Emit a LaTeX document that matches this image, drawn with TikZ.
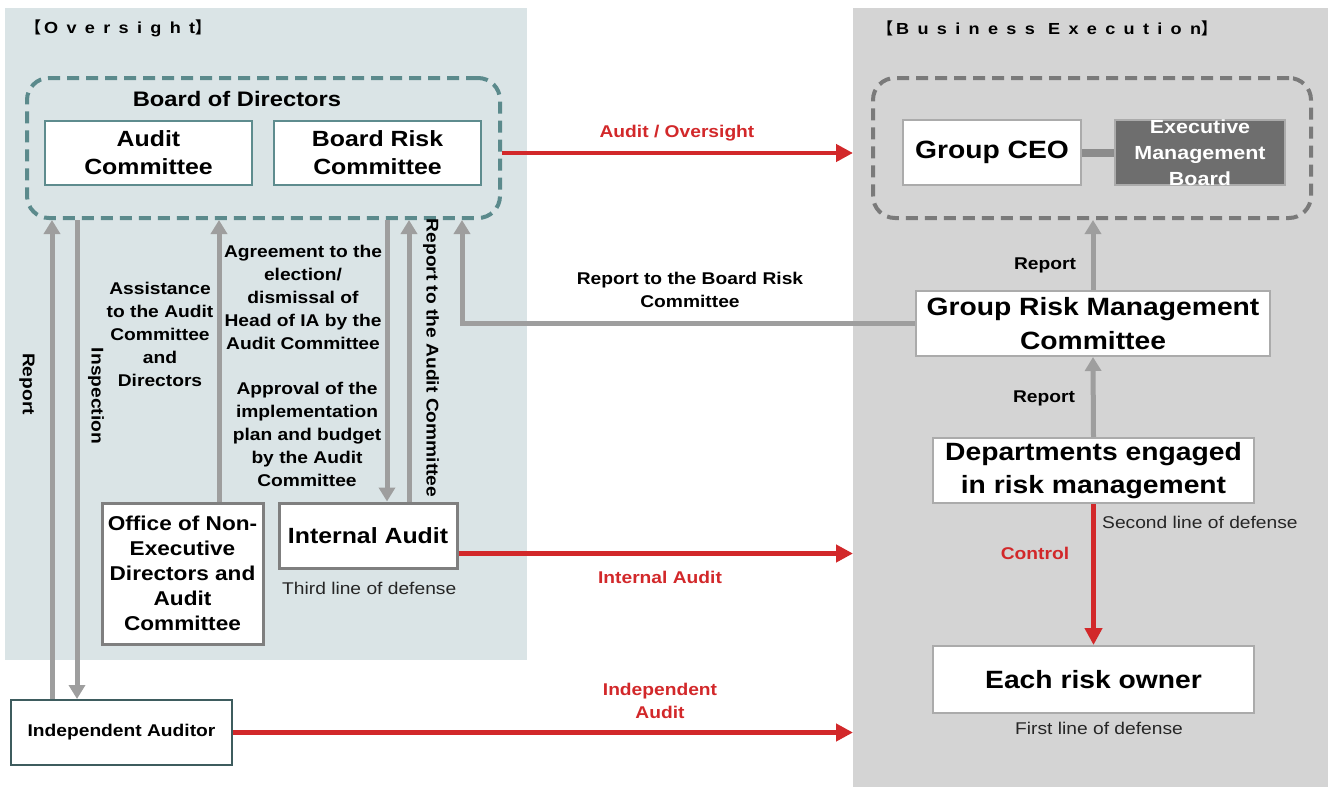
\documentclass[tikz,border=0pt]{standalone}
\usepackage{fontspec}
\setmainfont{Liberation Sans}[FakeStretch=1.13]
\newfontfamily\cjk{Noto Sans CJK JP}
\newfontfamily\spaced{Liberation Sans}[FakeStretch=1.13,LetterSpace=52]
\usetikzlibrary{arrows.meta,positioning}

\definecolor{oversightbg}{HTML}{DAE4E6}
\definecolor{execbg}{HTML}{D4D4D4}
\definecolor{boardline}{HTML}{5B8A8C}
\definecolor{execdash}{HTML}{7A7A7A}
\definecolor{boxteal}{HTML}{5E8C8E}
\definecolor{boxgray}{HTML}{ABABAB}
\definecolor{boxdark}{HTML}{7F7F7F}
\definecolor{auditorline}{HTML}{3E5C5E}
\definecolor{embfill}{HTML}{6E6E6E}
\definecolor{linkgray}{HTML}{8C8C8C}
\definecolor{arrowgray}{HTML}{9E9E9E}
\definecolor{auditred}{HTML}{D2282A}
\definecolor{notegray}{HTML}{262626}

\tikzset{
  >={Triangle[length=14pt,width=16pt]},
  panel/.style={inner sep=0pt,anchor=north west},
  header/.style={anchor=west,inner sep=0pt,font=\bfseries\fontsize{16}{18}\selectfont},
  dashbox/.style={line width=4pt,dash pattern=on 12pt off 7pt,rounded corners=22pt,inner sep=0pt},
  box/.style={fill=white,line width=2pt,inner sep=0pt,align=center},
  gryarrow/.style={draw=arrowgray,line width=5pt},
  redarrow/.style={draw=auditred,line width=4.5pt,-{Triangle[length=17pt,width=17pt]}},
  lbl/.style={inner sep=0pt,align=center,font=\bfseries\fontsize{17}{23}\selectfont},
  note/.style={inner sep=0pt,text=notegray,font=\fontsize{17}{20}\selectfont}
}

\begin{document}
\begin{tikzpicture}[x=1pt,y=-1pt]
\useasboundingbox (0,0) rectangle (1333,787);
\node [panel,fill=oversightbg,minimum width=522pt,minimum height=652pt] (oversight) at (5,8) {};
\node [panel,fill=execbg,minimum width=475pt,minimum height=779pt] (business) at (853,8) {};
\node [header] (oversighttitle) at (25,28) {{\cjk 【}\hspace{3pt}{\spaced Oversight}{\cjk 】}};
\node [header] (businesstitle) at (877,28) {{\cjk 【}\hspace{3pt}{\spaced Business Execution}{\cjk 】}};

\node [dashbox,draw=boardline,minimum width=473pt,minimum height=140pt] (board) at (263.5,148) {};
\node [font=\bfseries\fontsize{21}{24}\selectfont,inner sep=0pt] (boardtitle) at (237,99) {Board of Directors};
\node [box,draw=boxteal,minimum width=207pt,minimum height=64pt,font=\bfseries\fontsize{22}{28}\selectfont] (auditcom) at (148.5,153) {Audit\\Committee};
\node [box,draw=boxteal,minimum width=207pt,minimum height=64pt,font=\bfseries\fontsize{22}{28}\selectfont] (riskcom) at (377.5,153) {Board Risk\\Committee};

\node [dashbox,draw=execdash,minimum width=438pt,minimum height=140pt] (execgroup) at (1092,148) {};
\node [box,draw=boxgray,minimum width=178pt,minimum height=65pt,font=\bfseries\fontsize{25}{30}\selectfont] (ceo) at (992,152.5) {Group CEO};
\node [box,draw=boxgray,fill=embfill,text=white,minimum width=170pt,minimum height=65pt,font=\bfseries\fontsize{19}{26}\selectfont] (emb) at (1200,152.5) {Executive\\Management\\Board};
\draw [draw=linkgray,line width=8pt] (ceo) -- (emb);

\node [box,draw=boxgray,minimum width=354pt,minimum height=65pt,font=\bfseries\fontsize{25}{34}\selectfont] (grmc) at (1093,323.5) {Group Risk Management\\Committee};
\node [box,draw=boxgray,minimum width=321pt,minimum height=65pt,font=\bfseries\fontsize{25}{33}\selectfont] (dept) at (1093.5,470.5) {Departments engaged\\in risk management};
\node [box,draw=boxgray,minimum width=321pt,minimum height=67pt,font=\bfseries\fontsize{25}{30}\selectfont] (owner) at (1093.5,679.5) {Each risk owner};

\node [box,draw=boxdark,line width=3pt,minimum width=161pt,minimum height=141pt,font=\bfseries\fontsize{20}{25}\selectfont] (office) at (182.5,573.5) {Office of Non-\\Executive\\Directors and\\Audit\\Committee};
\node [box,draw=boxdark,line width=3pt,minimum width=178pt,minimum height=65pt,font=\bfseries\fontsize{22}{28}\selectfont] (ia) at (368,535.5) {Internal Audit};
\node [box,draw=auditorline,minimum width=221pt,minimum height=65pt,font=\bfseries\fontsize{17}{20}\selectfont] (indaud) at (121.5,732.5) {Independent Auditor};

\coordinate (colreport) at (52,0);
\coordinate (colinspect) at (77,0);
\coordinate (colassist) at (219,0);
\coordinate (colagree) at (387,0);
\coordinate (colreportac) at (409,0);
\coordinate (colreportbrc) at (462,0);

\draw [gryarrow,->] (indaud.north -| colreport) -- (board.south -| colreport);
\draw [gryarrow,->] (board.south -| colinspect) -- (indaud.north -| colinspect);
\draw [gryarrow,->] (office.north -| colassist) -- (board.south -| colassist);
\draw [gryarrow,->] (board.south -| colagree) -- (ia.north -| colagree);
\draw [gryarrow,->] (ia.north -| colreportac) -- (board.south -| colreportac);
\draw [gryarrow,->] (grmc.west) -| (board.south -| colreportbrc);
\draw [gryarrow,->] (grmc.north) -- (grmc.north |- execgroup.south);
\draw [gryarrow,->] (dept.north) -- (grmc.south);
\draw [redarrow] (dept.south) -- (owner.north);
\draw [redarrow] (riskcom.east -| board.east) -- (riskcom.east -| business.west);
\draw [redarrow] ([yshift=-18pt]ia.east) -- ([yshift=-18pt]ia.east -| business.west);
\draw [redarrow] (indaud.east) -- (indaud.east -| business.west);

\node [lbl,rotate=-90] (reportlbl) at (27,384) {Report};
\node [lbl,rotate=-90] (inspectlbl) at (96,396) {Inspection};
\node [lbl] (assistlbl) at (160,334) {Assistance\\to the Audit\\Committee\\and\\Directors};
\node [lbl] (agreelbl) at (303,297) {Agreement to the\\election/\\dismissal of\\Head of IA by the\\Audit Committee};
\node [lbl] (approvelbl) at (307,434) {Approval of the\\implementation\\plan and budget\\by the Audit\\Committee};
\node [lbl,rotate=-90] (reportaclbl) at (431,358) {Report to the Audit Committee};
\node [lbl] (reportbrclbl) at (690,290) {Report to the Board Risk\\Committee};
\node [lbl,text=auditred] (oversightlbl) at (677,133) {Audit / Oversight};
\node [lbl,text=auditred] (internallbl) at (660,577) {Internal Audit};
\node [lbl,text=auditred] (independentlbl) at (660,701) {Independent\\Audit};
\node [lbl] (reportup) at (1045,265) {Report};
\node [lbl] (reportmid) at (1044,398) {Report};
\node [lbl,text=auditred] (controllbl) at (1035,553) {Control};
\node [note,anchor=west] (secondline) at (1102,522) {Second line of defense};
\node [note] (firstline) at (1099,728) {First line of defense};
\node [note,anchor=west] (thirdline) at (282,588) {Third line of defense};
\end{tikzpicture}
\end{document}
